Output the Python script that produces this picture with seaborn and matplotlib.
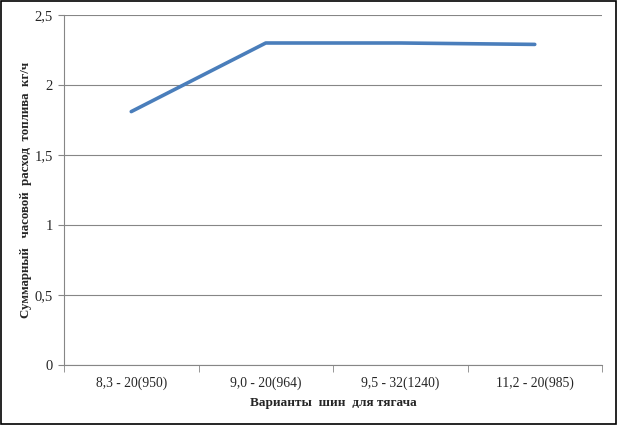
import matplotlib
matplotlib.use("Agg")
import matplotlib.pyplot as plt
import seaborn as sns
import pandas as pd
from matplotlib.patches import Rectangle

# данные
variants = ["8,3 - 20(950)", "9,0 - 20(964)", "9,5 - 32(1240)", "11,2 - 20(985)"]
fuel_rate = [1.81, 2.30, 2.30, 2.29]
y_ticks = [0, 0.5, 1, 1.5, 2, 2.5]
y_tick_labels = ["0", "0,5", "1", "1,5", "2", "2,5"]

sns.set_style("white")
plt.rcParams['font.family'] = ['Liberation Serif', 'DejaVu Serif']

df = pd.DataFrame({"pos": range(len(variants)), "rate": fuel_rate})

fig = plt.figure(figsize=(6.17, 4.25), dpi=100)
ax = fig.add_axes([64 / 617, 1 - 365 / 425, (602 - 64) / 617, (365 - 15) / 425])

sns.lineplot(data=df, x="pos", y="rate", ax=ax, color="#4a7ebb", linewidth=2.6)

ax.set_xlim(-0.5, len(variants) - 0.5)
ax.set_ylim(0, 2.5)
ax.set_yticks(y_ticks)
ax.set_yticklabels(y_tick_labels, fontsize=10.5)
ax.yaxis.grid(True, color="#868686", linewidth=0.8)
ax.set_axisbelow(True)

ax.set_xticks(range(len(variants)))
ax.set_xticklabels(variants, fontsize=9.8)
ax.tick_params(axis="x", length=0, pad=8)
ax.tick_params(axis="y", length=4, color="#868686", direction="out", left=True, pad=4)
# разделители категорий
ax.set_xticks([i - 0.5 for i in range(len(variants) + 1)], minor=True)
ax.tick_params(axis="x", which="minor", length=5, color="#868686", direction="out", bottom=True)

for side in ["top", "right"]:
    ax.spines[side].set_visible(False)
for side in ["left", "bottom"]:
    ax.spines[side].set_color("#868686")
    ax.spines[side].set_linewidth(0.8)

ax.set_xlabel("Варианты  шин  для тягача", fontsize=9.5, fontweight="bold", labelpad=5)
ax.set_ylabel("Суммарный   часовой  расход  топлива  кг/ч", fontsize=9.3,
              fontweight="bold", labelpad=2)

fig.patches.append(Rectangle((0.002, 0.002), 0.996, 0.996, transform=fig.transFigure,
                             fill=False, edgecolor="black", linewidth=1.2))

fig.savefig("out.png", dpi=100)
